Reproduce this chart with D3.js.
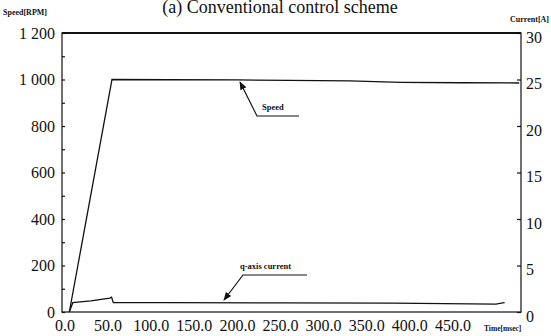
<!DOCTYPE html>
<html>
<head>
<meta charset="utf-8">
<script src="https://cdn.jsdelivr.net/npm/d3@7"></script>
<style>
  html, body { margin: 0; padding: 0; background: #ffffff; }
  svg { display: block; }
  svg text { font-family: "Liberation Serif", "DejaVu Serif", serif; fill: #111; }
</style>
</head>
<body>
<svg id="chart" width="551" height="336"></svg>
<script>
// speed trace [time ms, rpm]
const speedTime = [5, 54.5, 120, 200, 260, 330, 390, 460, 527];
const speedRpm = [0, 1000, 999, 998, 996, 994, 988, 986, 985];

// q-axis current trace [time ms, A]
const curTime = [5, 9, 30, 52, 54, 56, 120, 250, 380, 500, 506, 510];
const curAmp = [0, 1.0, 1.2, 1.5, 1.6, 1.0, 1.0, 0.98, 0.95, 0.85, 0.95, 1.0];

const timeTicks = [0, 50, 100, 150, 200, 250, 300, 350, 400, 450];
const timeLabels = ["0.0", "50.0", "100.0", "150.0", "200.0", "250.0", "300.0", "350.0", "400.0", "450.0"];
const speedTicks = [0, 200, 400, 600, 800, 1000, 1200];
const speedLabels = ["0", "200", "400", "600", "800", "1 000", "1 200"];
const currentTicks = [0, 5, 10, 15, 20, 25, 30];

const svg = d3.select("#chart");
const plotLeft = 62, plotRight = 521, plotTop = 33, plotBottom = 312;

const x = d3.scaleLinear().domain([-3.5, 529]).range([plotLeft, plotRight]);
const ySpeed = d3.scaleLinear().domain([0, 1200]).range([plotBottom, plotTop]);
const yCur = d3.scaleLinear().domain([0, 30]).range([plotBottom, plotTop]);

// title (cut off at the top in the scan)
svg.append("text")
  .attr("x", 280).attr("y", 13)
  .attr("text-anchor", "middle")
  .attr("font-size", 18)
  .text("(a) Conventional control scheme");

// frame
svg.append("rect")
  .attr("x", plotLeft).attr("y", plotTop)
  .attr("width", plotRight - plotLeft).attr("height", plotBottom - plotTop)
  .attr("fill", "none").attr("stroke", "#111").attr("stroke-width", 1.2);
svg.append("line")
  .attr("x1", plotLeft).attr("x2", plotRight).attr("y1", plotTop).attr("y2", plotTop)
  .attr("stroke", "#111").attr("stroke-width", 2.2);

// left axis ticks, pointing inward
const leftAxis = d3.axisRight(ySpeed).tickValues(d3.range(0, 1201, 100)).tickSize(3).tickFormat("");
const gl = svg.append("g").attr("transform", "translate(" + plotLeft + ",0)").call(leftAxis);
gl.select(".domain").remove();
gl.selectAll(".tick line").attr("stroke", "#111").attr("stroke-width", 1.2);

svg.append("g").selectAll("text")
  .data(speedTicks)
  .join("text")
  .attr("x", 55)
  .attr("y", d => ySpeed(d))
  .attr("dy", "0.35em")
  .attr("text-anchor", "end")
  .attr("font-size", 16)
  .text((d, i) => speedLabels[i]);

// right axis ticks, pointing inward
const rightAxis = d3.axisLeft(yCur).tickValues(currentTicks).tickSize(4).tickFormat("");
const gr = svg.append("g").attr("transform", "translate(" + plotRight + ",0)").call(rightAxis);
gr.select(".domain").remove();
gr.selectAll(".tick line").attr("stroke", "#111").attr("stroke-width", 1.2);

svg.append("g").selectAll("text")
  .data(currentTicks)
  .join("text")
  .attr("x", 526)
  .attr("y", d => yCur(d) + 4)
  .attr("dy", "0.35em")
  .attr("text-anchor", "start")
  .attr("font-size", 16)
  .text(d => d);

// bottom labels
svg.append("g").selectAll("text")
  .data(timeTicks)
  .join("text")
  .attr("x", d => x(d))
  .attr("y", 331)
  .attr("text-anchor", "middle")
  .attr("font-size", 16)
  .text((d, i) => timeLabels[i]);

// axis titles
svg.append("text").attr("x", 3).attr("y", 15)
  .attr("font-size", 8).attr("font-weight", "bold").text("Speed[RPM]");
svg.append("text").attr("x", 549).attr("y", 22).attr("text-anchor", "end")
  .attr("font-size", 8).attr("font-weight", "bold").text("Current[A]");
svg.append("text").attr("x", 484).attr("y", 331)
  .attr("font-size", 7.5).attr("font-weight", "bold").text("Time[msec]");

// traces
const speedLine = d3.line().x(d => x(d[0])).y(d => ySpeed(d[1]));
svg.append("path")
  .datum(speedTime.map((t, i) => [t, speedRpm[i]]))
  .attr("d", speedLine)
  .attr("fill", "none").attr("stroke", "#111").attr("stroke-width", 1.3);

const curLine = d3.line().x(d => x(d[0])).y(d => yCur(d[1]));
svg.append("path")
  .datum(curTime.map((t, i) => [t, curAmp[i]]))
  .attr("d", curLine)
  .attr("fill", "none").attr("stroke", "#111").attr("stroke-width", 1.3);

// annotations
const defs = svg.append("defs");
defs.append("marker")
  .attr("id", "arrow").attr("viewBox", "0 0 10 10")
  .attr("refX", 9).attr("refY", 5)
  .attr("markerWidth", 7).attr("markerHeight", 7)
  .attr("orient", "auto-start-reverse")
  .append("path").attr("d", "M0,1 L10,5 L0,9 z").attr("fill", "#111");

svg.append("polyline")
  .attr("points", "299,116 257,116 240,82")
  .attr("fill", "none").attr("stroke", "#111").attr("stroke-width", 1.2)
  .attr("marker-end", "url(#arrow)");
svg.append("text").attr("x", 262).attr("y", 110)
  .attr("font-size", 8.5).attr("font-weight", "bold").text("Speed");

svg.append("polyline")
  .attr("points", "307,275 243,275 224,300")
  .attr("fill", "none").attr("stroke", "#111").attr("stroke-width", 1.2)
  .attr("marker-end", "url(#arrow)");
svg.append("text").attr("x", 240).attr("y", 269)
  .attr("font-size", 8.5).attr("font-weight", "bold").text("q-axis current");
</script>
</body>
</html>
